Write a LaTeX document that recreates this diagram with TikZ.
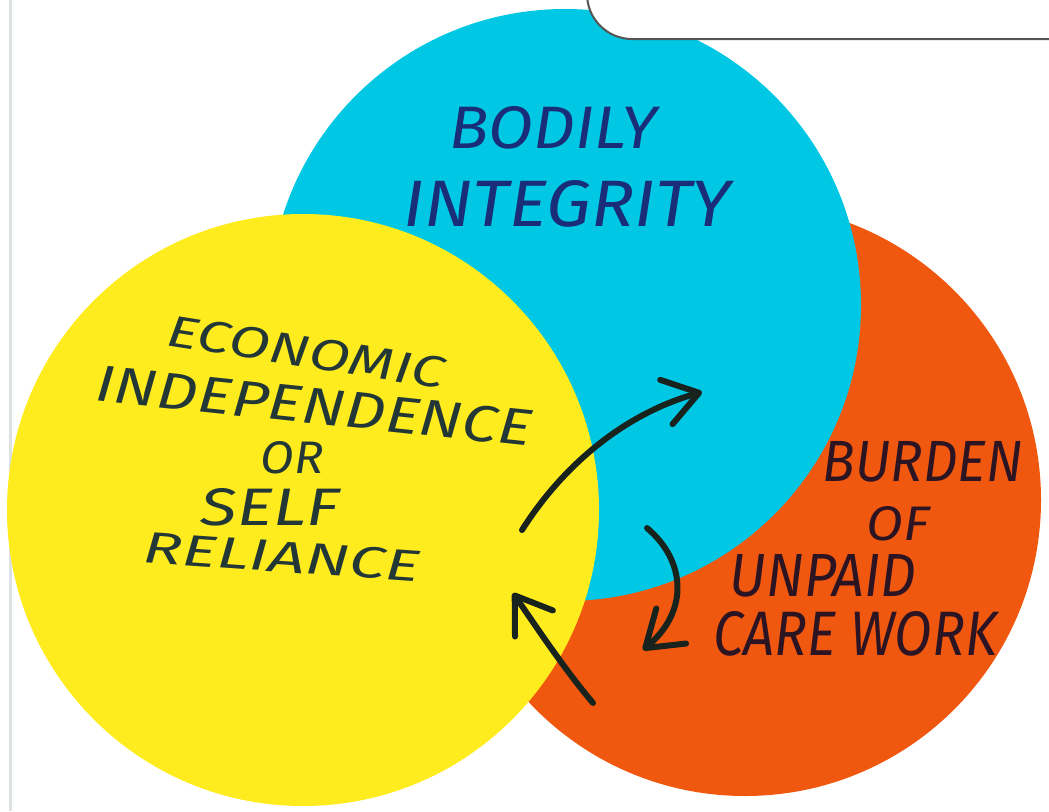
\documentclass[tikz,border=0pt]{standalone}
\usepackage{fontspec}
\setsansfont{Fira Sans}
\usetikzlibrary{arrows.meta}
\definecolor{cyanp}{RGB}{0,200,228}
\definecolor{yellowp}{RGB}{255,236,30}
\definecolor{orangep}{RGB}{240,88,16}
\definecolor{inkblue}{RGB}{25,45,120}
\definecolor{inkslate}{RGB}{35,55,55}
\definecolor{inkplum}{RGB}{45,20,35}
\definecolor{inkarrow}{RGB}{25,35,30}
\definecolor{boxline}{RGB}{85,85,85}
\definecolor{edgegray}{RGB}{220,226,228}
\newcommand{\hw}[3]{\resizebox{#1pt}{#2pt}{\sffamily\itshape #3}}
\tikzset{
  lbl/.style={inner sep=0pt, outer sep=0pt},
  harrow/.style={draw=inkarrow, line width=6pt, line cap=round,
    -{Straight Barb[length=34pt,width=46pt,line cap=round,line join=round]}}
}
\begin{document}
\begin{tikzpicture}[x=1pt,y=-1pt]
\useasboundingbox (0,0) rectangle (1049,811);
\clip (0,0) rectangle (1049,811);
\fill[white] (0,0) rectangle (1049,811);
\draw[edgegray, line width=3pt] (10,0) -- (10,811);
% discs
\fill[orangep] (745,500) circle (296pt);
\fill[cyanp] (565,305) circle (296pt);
\fill[yellowp] (303,510) circle (296pt);
% top box
\draw[boxline, line width=2pt, fill=white, rounded corners=45pt] (587,-90) rectangle (1120,39);
% labels
\node[lbl, text=inkblue] (b1) at (553,128) {\hw{207}{42}{BODILY}};
\node[lbl, text=inkblue] (b2) at (567,204) {\hw{327}{46}{INTEGRITY}};
\node[lbl, text=inkslate, rotate=-9] (e1) at (306,352) {\hw{280}{31}{ECONOMIC}};
\node[lbl, text=inkslate, rotate=-6] (e2) at (314,406) {\hw{438}{36}{INDEPENDENCE}};
\node[lbl, text=inkslate] (e3) at (292,458) {\hw{63}{32}{OR}};
\node[lbl, text=inkslate] (e4) at (270,507) {\hw{138}{37}{SELF}};
\node[lbl, text=inkslate, rotate=-4] (e5) at (282,557) {\hw{277}{31}{RELIANCE}};
\node[lbl, text=inkplum] (u1) at (923,462) {\hw{200}{40}{BURDEN}};
\node[lbl, text=inkplum] (u2) at (898,524) {\hw{63}{34}{OF}};
\node[lbl, text=inkplum] (u3) at (823,576) {\hw{187}{42}{UNPAID}};
\node[lbl, text=inkplum] (u4) at (855,634) {\hw{284}{44}{CARE WORK}};
% arrows
\coordinate (a1s) at (522,530);
\coordinate (a1e) at (702,392);
\coordinate (a2s) at (647,528);
\coordinate (a2e) at (643,650);
\coordinate (a3s) at (593,703);
\coordinate (a3e) at (513,593);
\draw[harrow] (a1s) .. controls (560,470) and (620,415) .. (a1e);
\draw[harrow] (a2s) .. controls (685,560) and (690,610) .. (a2e);
\draw[harrow] (a3s) .. controls (565,670) and (535,625) .. (a3e);
\end{tikzpicture}
\end{document}
